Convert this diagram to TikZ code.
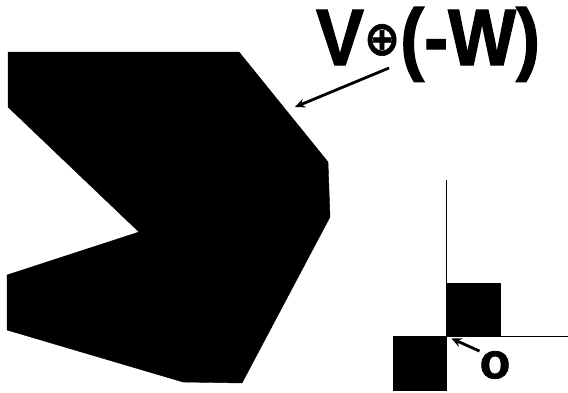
\documentclass[tikz,border=0pt]{standalone}
\usepackage{fontspec}
\setmainfont{Liberation Sans}
\newfontfamily\heavyfont[FakeBold=1.6]{Liberation Sans Bold}
\newfontfamily\symfont[FakeBold=1.2]{DejaVu Sans Bold}
\usetikzlibrary{
  arrows.meta,
  positioning
}
\tikzset{
  %%── 区域与小方块 ─────────────────────────────────────────
  region/.style = {fill = black, draw = black},
  cell/.style   = {fill = black, draw = black},
  axis/.style   = {line width = 0.9pt, color = black},
  %%── 文字 ─────────────────────────────────────────────────
  sumtxt/.style  = {inner sep = 0pt, xscale = 0.9, transform shape,
                    font = \heavyfont\fontsize{80}{82}\selectfont},
  origtxt/.style = {inner sep = 0pt, font = \heavyfont\fontsize{50}{52}\selectfont},
  %%── 箭头 ─────────────────────────────────────────────────
  arr/.style = {-{Stealth[length = 10pt, width = 9pt]}, line width = 2.8pt, color = black},
}

\begin{document}
\begin{tikzpicture}[x = 1pt, y = -1pt]
  \useasboundingbox (0,0) rectangle (568,392);

  %% ── 闵可夫斯基和区域 ─────────────────────────────────
  \fill[region] (8,52) -- (239,52) -- (328,162) -- (330,217) -- (242,383)
    -- (183,382) -- (7,330) -- (7,275) -- (139,232) -- (8,107) -- cycle;

  %% ── 标签 ─────────────────────────────────────────────
  \node[sumtxt, anchor = base] (sumlbl) at (428,65)
    {V{\symfont\fontsize{48}{48}\selectfont\raisebox{10pt}{⊕}}(-W)};
  \coordinate (vtail) at (389,68);
  \coordinate (vedge) at (295,107);

  %% ── 坐标轴与方块 ─────────────────────────────────────
  \coordinate (orig) at (446,336);
  \draw[axis] (orig) -- (446,180);
  \draw[axis] (orig) -- (568,336);
  \fill[cell] (orig) rectangle ++(54,-53);
  \fill[cell] (orig) rectangle ++(-53,54);
  \node[origtxt] (olbl) at (495,365) {o};

  %% ── 箭头 ─────────────────────────────────────────────
  \draw[arr, shorten > = 6pt] (olbl.north west) -- (orig);
  \draw[arr] (vtail) -- (vedge);

\end{tikzpicture}
\end{document}
